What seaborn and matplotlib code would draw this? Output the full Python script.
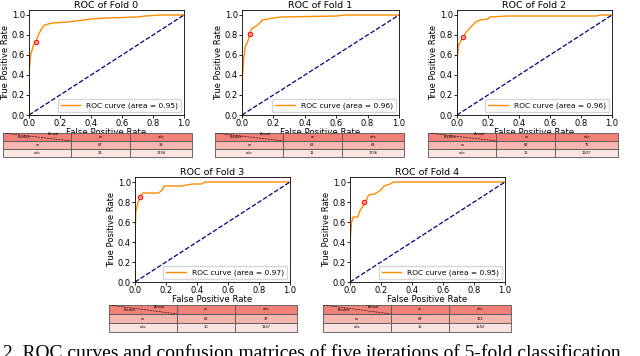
import numpy as np
import pandas as pd
import matplotlib
matplotlib.use("Agg")
import matplotlib.pyplot as plt
import seaborn as sns

# ROC curves (fpr, tpr per fold)
fpr_fold0 = [0, 0, 0.005, 0.01, 0.02, 0.03, 0.045, 0.06, 0.08, 0.10, 0.15, 0.25, 0.30, 0.40, 0.50, 0.70, 0.75, 0.85, 1.0]
tpr_fold0 = [0, 0.45, 0.50, 0.60, 0.65, 0.70, 0.73, 0.80, 0.86, 0.90, 0.92, 0.93, 0.94, 0.96, 0.97, 0.98, 0.99, 1.0, 1.0]
fpr_fold1 = [0, 0, 0.01, 0.02, 0.04, 0.05, 0.06, 0.10, 0.13, 0.20, 0.25, 0.60, 0.65, 1.0]
tpr_fold1 = [0, 0.30, 0.55, 0.68, 0.75, 0.82, 0.86, 0.90, 0.95, 0.97, 0.98, 0.99, 1.0, 1.0]
fpr_fold2 = [0, 0, 0.003, 0.01, 0.04, 0.06, 0.09, 0.12, 0.15, 0.20, 0.21, 0.33, 0.90, 0.92, 1.0]
tpr_fold2 = [0, 0.35, 0.60, 0.70, 0.78, 0.83, 0.88, 0.93, 0.95, 0.96, 0.98, 0.99, 0.99, 1.0, 1.0]
fpr_fold3 = [0, 0, 0.005, 0.02, 0.035, 0.05, 0.15, 0.17, 0.19, 0.30, 0.37, 0.43, 0.45, 1.0]
tpr_fold3 = [0, 0.45, 0.70, 0.80, 0.85, 0.89, 0.89, 0.91, 0.96, 0.96, 0.98, 0.98, 1.0, 1.0]
fpr_fold4 = [0, 0, 0.01, 0.02, 0.05, 0.06, 0.08, 0.10, 0.12, 0.16, 0.18, 0.20, 0.22, 0.26, 0.28, 1.0]
tpr_fold4 = [0, 0.40, 0.60, 0.65, 0.65, 0.70, 0.75, 0.80, 0.87, 0.88, 0.90, 0.92, 0.96, 0.98, 1.0, 1.0]

fold_fpr = [fpr_fold0, fpr_fold1, fpr_fold2, fpr_fold3, fpr_fold4]
fold_tpr = [tpr_fold0, tpr_fold1, tpr_fold2, tpr_fold3, tpr_fold4]
auc_values = [0.95, 0.96, 0.96, 0.97, 0.95]

# operating point (red circle)
op_fpr = [0.045, 0.05, 0.04, 0.035, 0.09]
op_tpr = [0.73, 0.81, 0.78, 0.85, 0.80]

# confusion tables under each plot
col_labels = ["", "w", "w/o"]
row_labels = ["w", "w/o"]
cm_w = [[87, 39], [63, 63], [82, 75], [62, 37], [63, 131]]
cm_wo = [[24, 1758], [11, 1736], [11, 1107], [10, 1167], [15, 1550]]

caption = "2. ROC curves and confusion matrices of five iterations of 5-fold classification"

W, H = 640, 356
# axes boxes in pixels: left, top, right, bottom
ax_px = [(29, 10, 184, 115), (242, 10, 399, 115), (457, 10, 612, 115),
         (135, 177, 290, 282), (350, 177, 505, 282)]
tab_px = [(3, 133, 192, 157), (215, 133, 404, 157), (428, 133, 618, 157),
          (109, 305, 297, 332), (323, 305, 511, 332)]


def box(p):
    l, t, r, b = p
    return [l / W, 1 - b / H, (r - l) / W, (b - t) / H]


fig = plt.figure(figsize=(6.4, 3.56), dpi=100)

for i in range(5):
    ax = fig.add_axes(box(ax_px[i]))
    df = pd.DataFrame({"fpr": fold_fpr[i], "tpr": fold_tpr[i]})
    sns.lineplot(data=df, x="fpr", y="tpr", ax=ax, color="darkorange", lw=1,
                 estimator=None, sort=False,
                 label=f"ROC curve (area = {auc_values[i]:.2f})")
    ax.axline((0, 0), slope=1, color="navy", ls="--", lw=0.9)
    ax.plot(op_fpr[i], op_tpr[i], "o", ms=3.2, mec="red", mfc="#f7a08a", mew=0.7)
    ax.set_xlim(0, 1)
    ax.set_ylim(0, 1.05)
    ax.set_xticks(np.linspace(0, 1, 6))
    ax.set_yticks(np.linspace(0, 1, 6))
    ax.tick_params(labelsize=6, length=2, width=0.6, pad=1)
    for s in ax.spines.values():
        s.set_linewidth(0.6)
    ax.set_xlabel("False Positive Rate", fontsize=6.2, labelpad=0)
    ax.set_ylabel("True Positive Rate", fontsize=6, labelpad=1)
    ax.set_title(f"ROC of Fold {i}", fontsize=6.8, pad=1.5)
    ax.legend(loc="lower right", fontsize=5.4, handlelength=2.6, borderpad=0.4,
              borderaxespad=0.4)

    # confusion table
    tax = fig.add_axes(box(tab_px[i]))
    tax.axis("off")
    tax.set_xlim(0, 1)
    tax.set_ylim(0, 1)
    cells = [col_labels,
             [row_labels[0], str(cm_w[i][0]), str(cm_w[i][1])],
             [row_labels[1], str(cm_wo[i][0]), str(cm_wo[i][1])]]
    colours = [["#f08078"] * 3, ["#f6b5ae"] * 3, ["#fde3e1"] * 3]
    tb = tax.table(cellText=cells, cellColours=colours, cellLoc="center",
                   colWidths=[0.36, 0.31, 0.33], bbox=[0, 0, 1, 1])
    tb.auto_set_font_size(False)
    tb.set_fontsize(2.6)
    for (r, c), cell in tb.get_celld().items():
        cell.set_edgecolor("#555555")
        cell.set_linewidth(0.6)
    # split header cell
    tax.plot([0.0, 0.36], [1.0, 0.67], ls="--", lw=0.4, color="black")
    tax.text(0.08, 0.74, "Predict", fontsize=2.6, va="bottom")
    tax.text(0.24, 0.86, "Actual", fontsize=2.6, va="bottom")

fig.text(0.005, -0.006, caption, fontsize=14, family="Liberation Serif",
         ha="left", va="baseline")

fig.savefig("out.png", dpi=100)
